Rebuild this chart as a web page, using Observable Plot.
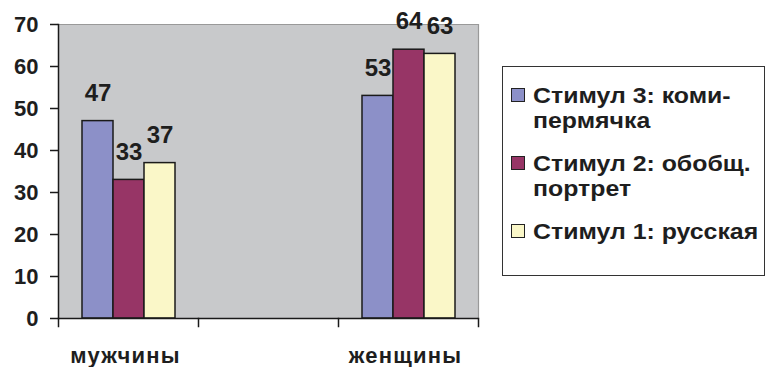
<!DOCTYPE html>
<html>
<head>
<meta charset="utf-8">
<script src="https://cdn.jsdelivr.net/npm/d3@7"></script>
<script src="https://cdn.jsdelivr.net/npm/@observablehq/plot@0.6"></script>
<style>
  html, body { margin: 0; padding: 0; background: #fff; }
  #wrap { position: relative; width: 765px; height: 367px; font-family: "Liberation Sans", Arial, sans-serif; }
  #chart { position: absolute; left: 0; top: 0; }
  #chart svg text { font-weight: bold; fill: #1e1e1e; }
  #chart svg g[aria-label="fx-axis tick label"] text { letter-spacing: 1.2px; }
  #legend {
    position: absolute; left: 502px; top: 66px; width: 261px; height: 192px;
    border: 1.5px solid #333; box-sizing: content-box;
    font-family: "Liberation Sans", Arial, sans-serif; font-weight: bold; font-size: 22px; color: #1e1e1e;
    line-height: 25px; padding-top: 16px;
  }
  .item { display: flex; align-items: flex-start; margin-bottom: 18px; }
  .sw { width: 12px; height: 12px; border: 1.5px solid #222; margin: 5px 8px 0 8px; flex: none; }
  .txt { display: inline-block; white-space: nowrap; transform: scaleX(1.13); transform-origin: 0 0; }
</style>
</head>
<body>
<div id="wrap">
  <div id="chart"></div>
  <div id="legend"></div>
</div>
<script>
const categories = ["мужчины", " ", "женщины"];
const series = ["Стимул 3: коми-пермячка", "Стимул 2: обобщ. портрет", "Стимул 1: русская"];
const legendLines = [["Стимул 3: коми-", "пермячка"], ["Стимул 2: обобщ.", "портрет"], ["Стимул 1: русская"]];
const colors = ["#8c90c8", "#973566", "#faf7c8"];
const menValues = [47, 33, 37];
const womenValues = [53, 64, 63];
const yTicks = [0, 10, 20, 30, 40, 50, 60, 70];
const yMax = 70;

const data = [];
series.forEach((s, i) => {
  data.push({cat: categories[0], series: s, value: menValues[i]});
  data.push({cat: categories[2], series: s, value: womenValues[i]});
});

const H = 367, mT = 24, mB = 49;
const innerH = H - mT - mB;

const plot = Plot.plot({
  width: 490,
  height: H,
  marginLeft: 58,
  marginRight: 12,
  marginTop: mT,
  marginBottom: mB,
  style: {fontFamily: "'Liberation Sans', Arial, sans-serif", background: "transparent"},
  fx: {domain: categories, padding: 0, axis: null},
  x: {domain: series, paddingInner: 0, paddingOuter: 0.758, axis: null},
  y: {domain: [0, yMax], axis: null},
  color: {domain: series, range: colors},
  marks: [
    Plot.rect(categories, {fx: d => d, y1: () => 0, y2: () => yMax, fill: "#c8c9cb"}),
    Plot.ruleY(categories, {fx: d => d, y: () => yMax, stroke: "#999", strokeWidth: 1.2}),
    Plot.frame({anchor: "right", facetAnchor: "right", stroke: "#999", strokeWidth: 1.2}),
    Plot.barY(data, {fx: "cat", x: "series", y: "value", fill: "series", stroke: "#1a1a1a", strokeWidth: 1.5}),
    Plot.text(data, {fx: "cat", x: "series", y: "value", text: d => String(d.value), dy: -28, fontSize: 24, lineAnchor: "middle"}),
    Plot.ruleY(categories, {fx: d => d, y: () => 0, stroke: "#1a1a1a", strokeWidth: 1.5}),
    Plot.frame({anchor: "left", facetAnchor: "left", stroke: "#1a1a1a", strokeWidth: 1.5}),
    Plot.frame({anchor: "left", stroke: "#1a1a1a", strokeWidth: 1.5, insetTop: innerH, insetBottom: -8}),
    Plot.frame({anchor: "right", facetAnchor: "right", stroke: "#1a1a1a", strokeWidth: 1.5, insetTop: innerH, insetBottom: -8}),
    Plot.axisY({ticks: yTicks, tickSize: 8, tickPadding: 12, fontSize: 22, stroke: "#1a1a1a", strokeWidth: 1.5, label: null}),
    Plot.axisFx({tickSize: 0, tickPadding: 29, fontSize: 22, label: null, anchor: "bottom", dx: -3})
  ]
});
document.getElementById("chart").appendChild(plot);

const legend = document.getElementById("legend");
legendLines.forEach((lines, i) => {
  const item = document.createElement("div");
  item.className = "item";
  const sw = document.createElement("div");
  sw.className = "sw";
  sw.style.background = colors[i];
  const txt = document.createElement("div");
  const span = document.createElement("span");
  span.className = "txt";
  span.innerHTML = lines.join("<br>");
  txt.appendChild(span);
  item.appendChild(sw);
  item.appendChild(txt);
  legend.appendChild(item);
});
</script>
</body>
</html>
